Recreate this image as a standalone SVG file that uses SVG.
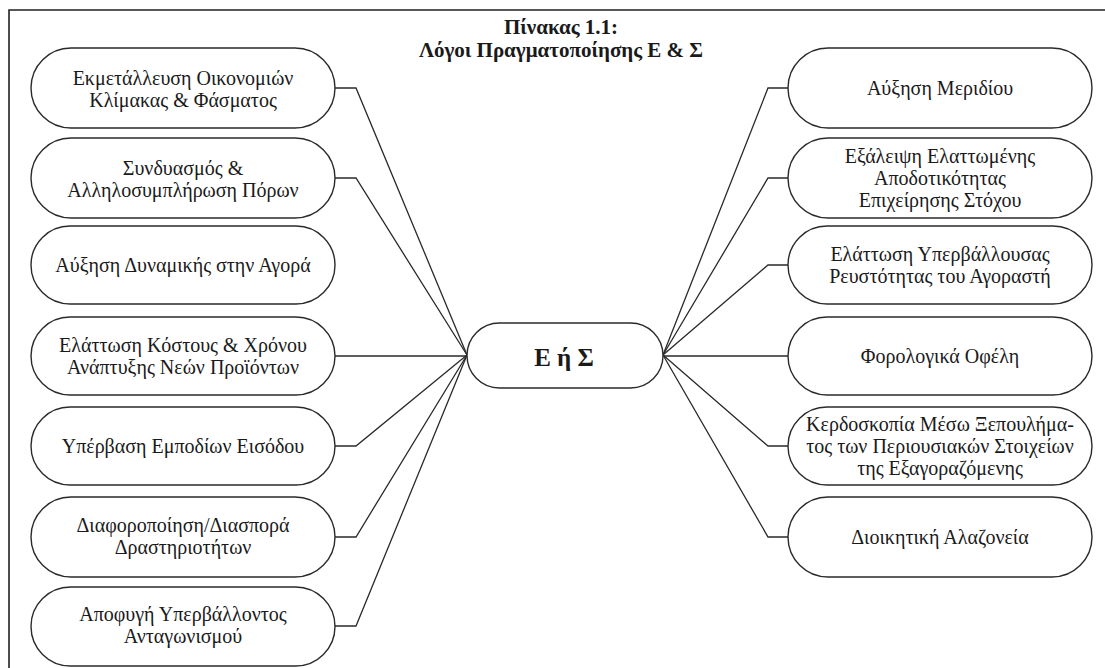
<svg xmlns="http://www.w3.org/2000/svg" width="1105" height="668" viewBox="0 0 1105 668">
<style>
.n{fill:#fff;stroke:#2a2a2a;stroke-width:1.4}
.t{font-family:"Liberation Serif","Times New Roman",serif;font-size:20px;fill:#1a1a1a;text-anchor:middle}
.b{font-family:"Liberation Serif","Times New Roman",serif;font-weight:bold;fill:#1a1a1a;text-anchor:middle}
.c{fill:none;stroke:#2a2a2a;stroke-width:1.3}
</style>
<rect width="1105" height="668" fill="#fff"/>
<path d="M9,668 V10 H1105" fill="none" stroke="#222" stroke-width="1.6"/>
<g id="title">
<text class="b" x="561" y="34" font-size="21">Πίνακας 1.1:</text>
<text class="b" x="561" y="57" font-size="21">Λόγοι Πραγματοποίησης Ε &amp; Σ</text>
</g>
<g id="connectors">
<polyline class="c" points="335,88 356,88 467,355"/>
<polyline class="c" points="335,178 356,178 467,355"/>
<polyline class="c" points="335,356 467,356"/>
<polyline class="c" points="335,446 356,446 467,355"/>
<polyline class="c" points="335,537 356,537 467,355"/>
<polyline class="c" points="335,626 356,626 467,355"/>
<polyline class="c" points="788,88 768,88 663,355"/>
<polyline class="c" points="788,178 768,178 663,355"/>
<polyline class="c" points="788,265 768,265 663,355"/>
<polyline class="c" points="788,356 663,356"/>
<polyline class="c" points="788,446 768,446 663,355"/>
<polyline class="c" points="788,537 768,537 663,355"/>
</g>
<g id="center">
<rect class="n" x="467" y="323" width="196" height="65" rx="32.5"/>
<text class="b" x="564" y="366" font-size="25">Ε ή Σ</text>
</g>
<g id="L1"><rect class="n" x="31" y="48" width="304" height="80" rx="40"/>
<text class="t" x="183" y="85">Εκμετάλλευση Οικονομιών</text><text class="t" x="183" y="107">Κλίμακας &amp; Φάσματος</text></g>
<g id="L2"><rect class="n" x="31" y="138" width="304" height="80" rx="40"/>
<text class="t" x="183" y="175">Συνδυασμός &amp;</text><text class="t" x="183" y="197">Αλληλοσυμπλήρωση Πόρων</text></g>
<g id="L3"><rect class="n" x="31" y="226" width="304" height="78" rx="39"/>
<text class="t" x="183" y="272">Αύξηση Δυναμικής στην Αγορά</text></g>
<g id="L4"><rect class="n" x="31" y="317" width="304" height="78" rx="39"/>
<text class="t" x="183" y="352">Ελάττωση Κόστους &amp; Χρόνου</text><text class="t" x="183" y="374">Ανάπτυξης Νεών Προϊόντων</text></g>
<g id="L5"><rect class="n" x="31" y="407" width="304" height="78" rx="39"/>
<text class="t" x="183" y="453">Υπέρβαση Εμποδίων Εισόδου</text></g>
<g id="L6"><rect class="n" x="31" y="497" width="304" height="80" rx="40"/>
<text class="t" x="183" y="532">Διαφοροποίηση/Διασπορά</text><text class="t" x="183" y="554">Δραστηριοτήτων</text></g>
<g id="L7"><rect class="n" x="31" y="587" width="304" height="79" rx="39.5"/>
<text class="t" x="183" y="621">Αποφυγή Υπερβάλλοντος</text><text class="t" x="183" y="643">Ανταγωνισμού</text></g>
<g id="R1"><rect class="n" x="788" y="48" width="304" height="80" rx="40"/>
<text class="t" x="940" y="95">Αύξηση Μεριδίου</text></g>
<g id="R2"><rect class="n" x="788" y="138" width="304" height="80" rx="40"/>
<text class="t" x="940" y="163">Εξάλειψη Ελαττωμένης</text><text class="t" x="940" y="185">Αποδοτικότητας</text><text class="t" x="940" y="207">Επιχείρησης Στόχου</text></g>
<g id="R3"><rect class="n" x="788" y="226" width="304" height="78" rx="39"/>
<text class="t" x="940" y="261">Ελάττωση Υπερβάλλουσας</text><text class="t" x="940" y="283">Ρευστότητας του Αγοραστή</text></g>
<g id="R4"><rect class="n" x="788" y="317" width="304" height="78" rx="39"/>
<text class="t" x="940" y="363">Φορολογικά Οφέλη</text></g>
<g id="R5"><rect class="n" x="788" y="407" width="304" height="78" rx="39"/>
<text class="t" x="940" y="431" font-size="19.5">Κερδοσκοπία Μέσω Ξεπουλήμα-</text><text class="t" x="940" y="453" font-size="19.5">τος των Περιουσιακών Στοιχείων</text><text class="t" x="940" y="475" font-size="19.5">της Εξαγοραζόμενης</text></g>
<g id="R6"><rect class="n" x="788" y="497" width="304" height="80" rx="40"/>
<text class="t" x="940" y="544">Διοικητική Αλαζονεία</text></g>
</svg>
